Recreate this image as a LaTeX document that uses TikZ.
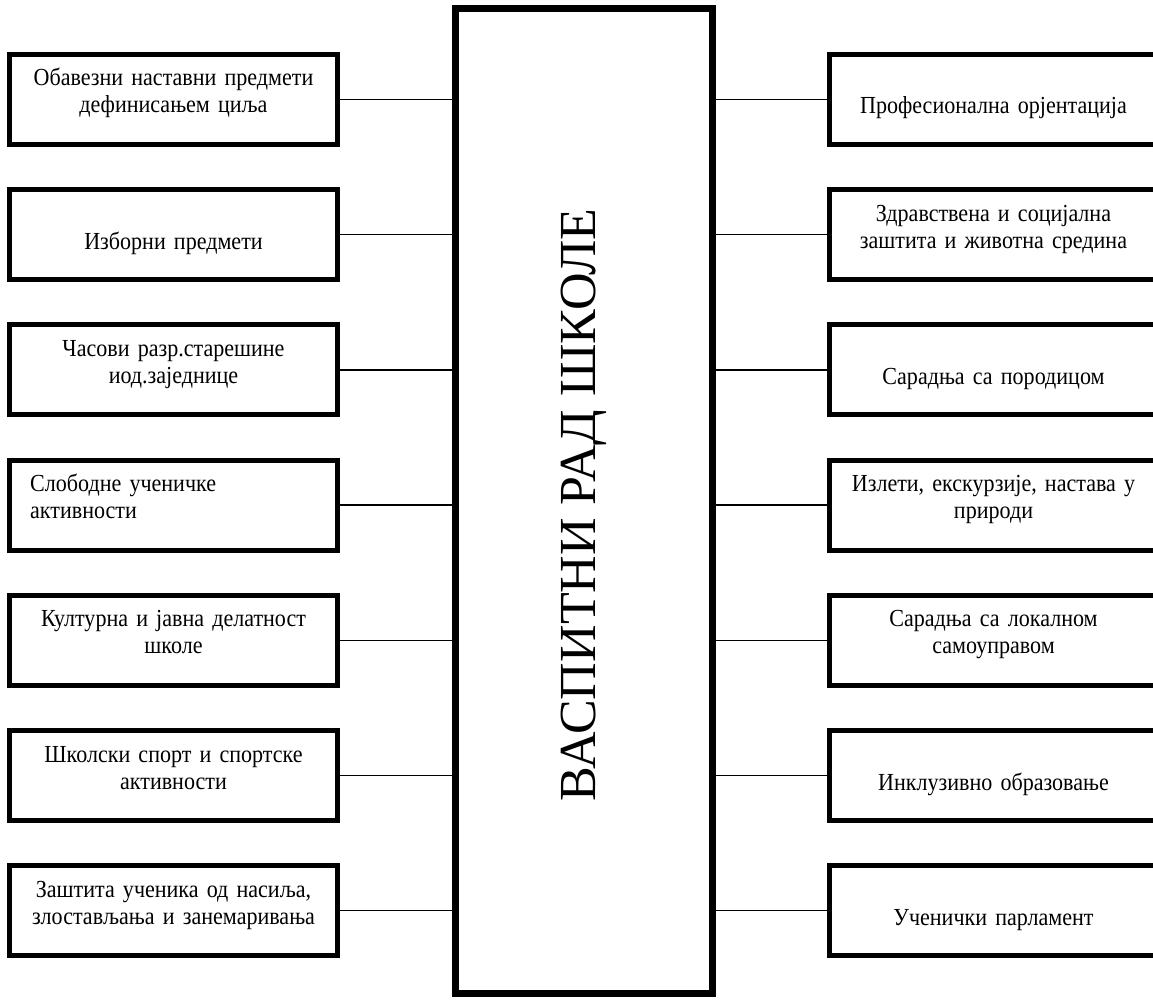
\documentclass[tikz,border=0pt]{standalone}
\usepackage{fontspec}
\setmainfont{Liberation Serif}
\newfontfamily\boxfont[FakeStretch=0.9]{Liberation Serif}
\begin{document}
\begin{tikzpicture}[x=1pt,y=-1pt,
  sidebox/.style={draw, line width=5pt, minimum width=328pt, minimum height=90pt, inner sep=0pt, fill=white},
  mainbox/.style={draw, line width=7pt, minimum width=257pt, minimum height=985pt, inner sep=0pt},
  txt/.style={inner sep=0pt, text width=328pt, align=center, anchor=base, font=\boxfont\fontsize{24.5}{27}\selectfont},
  txtl/.style={inner sep=0pt, text width=300pt, align=left, anchor=base west, font=\boxfont\fontsize{24.5}{27}\selectfont},
  conn/.style={line width=1.5pt}]
\useasboundingbox (0,0) rectangle (1153,1003);

\node[mainbox] (C) at (584,501) {};
\node[inner sep=0pt, rotate=90, font=\fontsize{52}{57}\selectfont] (title) at (584,505) {ВАСПИТНИ РАД ШКОЛЕ};

% left boxes
\node[sidebox] (L1) at (173.5,99.5) {};
\node[sidebox] (L2) at (173.5,234.7) {};
\node[sidebox] (L3) at (173.5,369.9) {};
\node[sidebox] (L4) at (173.5,505.1) {};
\node[sidebox] (L5) at (173.5,640.3) {};
\node[sidebox] (L6) at (173.5,775.5) {};
\node[sidebox] (L7) at (173.5,910.7) {};

% right boxes
\node[sidebox] (R1) at (993.5,99.5) {};
\node[sidebox] (R2) at (993.5,234.7) {};
\node[sidebox] (R3) at (993.5,369.9) {};
\node[sidebox] (R4) at (993.5,505.1) {};
\node[sidebox] (R5) at (993.5,640.3) {};
\node[sidebox] (R6) at (993.5,775.5) {};
\node[sidebox] (R7) at (993.5,910.7) {};

% left texts
\node[txt] (L1t) at (173.5,86) {Обавезни наставни предмети\\дефинисањем циља};
\node[txt] (L2t) at (173.5,249.2) {Изборни предмети};
\node[txt] (L3t) at (173.5,356.4) {Часови разр.старешине\\иод.заједнице};
\node[txtl] (L4t) at (30,491.6) {Слободне ученичке\\активности};
\node[txt] (L5t) at (173.5,626.8) {Културна и јавна делатност\\школе};
\node[txt] (L6t) at (173.5,762) {Школски спорт и спортске\\активности};
\node[txt] (L7t) at (173.5,897.2) {Заштита ученика од насиља,\\злостављања и занемаривања};

% right texts
\node[txt] (R1t) at (993.5,114) {Професионална орјентација};
\node[txt] (R2t) at (993.5,221.2) {Здравствена и социјална\\заштита и животна средина};
\node[txt] (R3t) at (993.5,384.4) {Сарадња са породицом};
\node[txt] (R4t) at (993.5,491.6) {Излети, екскурзије, настава у\\природи};
\node[txt] (R5t) at (993.5,626.8) {Сарадња са локалном\\самоуправом};
\node[txt] (R6t) at (993.5,790) {Инклузивно образовање};
\node[txt] (R7t) at (993.5,925.2) {Ученички парламент};

% connectors
\foreach \i in {1,...,7} {
  \draw[conn] (L\i.east) -- (L\i.east -| C.west);
  \draw[conn] (R\i.west) -- (R\i.west -| C.east);
}
\end{tikzpicture}
\end{document}
